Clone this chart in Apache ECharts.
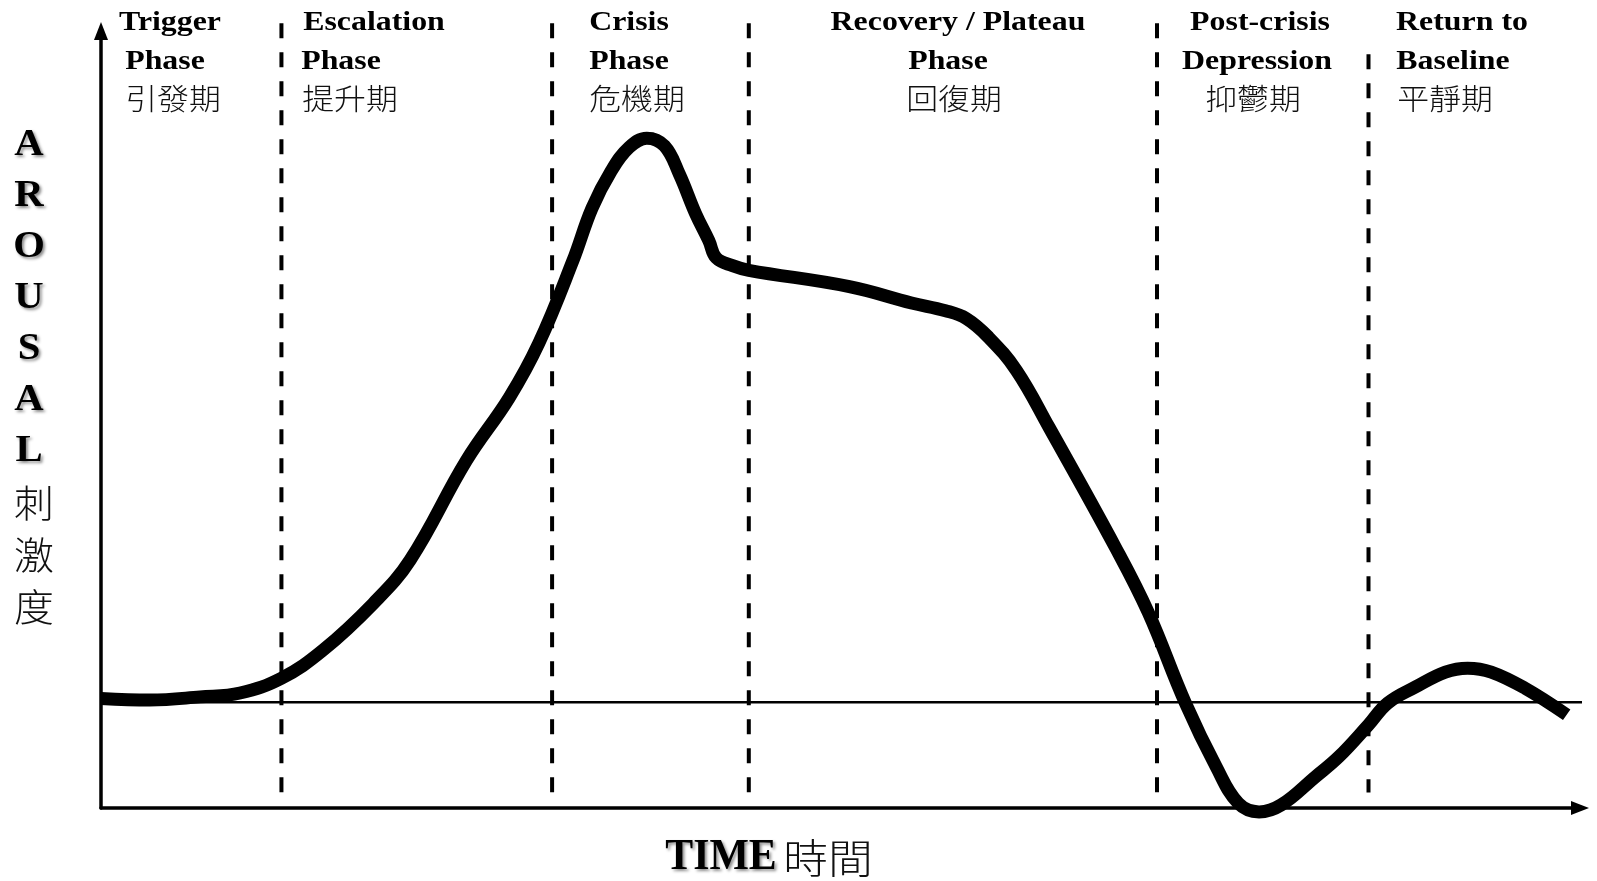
<!DOCTYPE html>
<html><head><meta charset="utf-8">
<script src="https://cdn.jsdelivr.net/npm/echarts@6/dist/echarts.min.js"></script>
<style>html,body{margin:0;padding:0;background:#fff;} #chart{width:1597px;height:881px;}</style>
</head><body><div id="chart"></div>
<script>
// ---- data ----
const timeValues    = [0, 3.3, 6.7, 9.4, 12.2, 15.0, 18.4, 20.9, 24.7, 27.6, 29.6, 31.9, 33.2, 34.5, 35.7, 36.9, 38.1, 39.1, 40.2, 41.1, 41.6, 42.7, 43.8, 50.6, 54.8, 57.1, 58.5, 60.0, 61.9, 64.1, 68.6, 70.8, 73.3, 75.4, 76.9, 78.3, 79.8, 82.1, 83.7, 85.7, 87.0, 88.9, 90.9, 92.4, 94.0, 96.3, 99.1];
const arousalValues = [14.1, 13.9, 14.3, 14.8, 16.7, 20.3, 26.3, 31.9, 44.7, 52.8, 59.8, 70.4, 77.2, 82.0, 85.0, 86.2, 85.2, 81.6, 76.5, 73.0, 70.8, 69.8, 69.2, 67.1, 65.0, 64.0, 63.0, 60.6, 56.3, 49.0, 33.5, 25.2, 13.6, 5.3, 0.6, -0.5, 0.4, 4.0, 6.6, 10.7, 13.5, 15.6, 17.5, 18.0, 17.5, 15.4, 12.0];
const baselineArousal = 13.6;
const baselineEnd = 100.5;
const phaseBoundaries = [12.2, 30.5, 43.8, 71.4, 85.7];
const boundaryTops = [101, 101, 101, 101, 97];
const boundaryBottom = 2;
const phaseTitles = [['Trigger', 'Phase'], ['Escalation', 'Phase'], ['Crisis', 'Phase'], ['Recovery / Plateau', 'Phase'], ['Post-crisis', 'Depression'], ['Return to', 'Baseline']];
const phaseTitlesZh = ['引發期', '提升期', '危機期', '回復期', '抑鬱期', '平靜期'];
const yAxisTitle = 'AROUSAL';
const yAxisTitleZh = '刺激度';
const xAxisTitle = 'TIME';
const xAxisTitleZh = '時間';

// ---- layout ----
const LATIN = '"Liberation Serif", "Times New Roman", "DejaVu Serif", serif';
const CJK = '"Noto Sans CJK TC", "Noto Sans CJK SC", sans-serif';
const labelCenters = [[170, 165, 173], [374, 341, 350], [629, 629, 637], [958, 948, 954], [1260, 1257, 1253], [1462, 1453, 1445]];
const rowY = [23, 62, 99];

const chart = echarts.init(document.getElementById('chart'));

const graphics = [];
phaseTitles.forEach((lines, i) => {
  lines.forEach((t, r) => {
    graphics.push({
      type: 'text', x: labelCenters[i][r], y: rowY[r], scaleX: 1.18,
      style: { text: t, x: 0, y: 0, fill: '#000', fontFamily: LATIN, fontWeight: 'bold', fontSize: 27,
        align: 'center', verticalAlign: 'middle', textAlign: 'center', textVerticalAlign: 'middle' }
    });
  });
  graphics.push({
    type: 'text', x: labelCenters[i][2], y: rowY[2], scaleX: 1.1,
    style: { text: phaseTitlesZh[i], x: 0, y: 0, fill: '#111', fontFamily: CJK, fontWeight: 300, fontSize: 29,
      align: 'center', verticalAlign: 'middle', textAlign: 'center', textVerticalAlign: 'middle' }
  });
});
const shadow = { textShadowColor: 'rgba(0,0,0,0.45)', textShadowBlur: 3, textShadowOffsetX: 2, textShadowOffsetY: 2 };
graphics.push({
  type: 'text', x: 29, y: 119.5, scaleX: 1.1,
  style: Object.assign({ text: yAxisTitle.split('').join('\n'), x: 0, y: 0, fill: '#000', fontFamily: LATIN, fontWeight: 'bold',
    fontSize: 37, lineHeight: 51, align: 'center', verticalAlign: 'top', textAlign: 'center', textVerticalAlign: 'top' }, shadow)
});
graphics.push({
  type: 'text', x: 34, y: 477, scaleX: 1.05,
  style: { text: yAxisTitleZh.split('').join('\n'), x: 0, y: 0, fill: '#111', fontFamily: CJK, fontWeight: 300,
    fontSize: 38, lineHeight: 52, align: 'center', verticalAlign: 'top', textAlign: 'center', textVerticalAlign: 'top' }
});
graphics.push({
  type: 'text', x: 721, y: 858, scaleX: 0.95,
  style: Object.assign({ text: xAxisTitle, x: 0, y: 0, fill: '#000', fontFamily: LATIN, fontWeight: 'bold', fontSize: 44,
    align: 'center', verticalAlign: 'middle', textAlign: 'center', textVerticalAlign: 'middle' }, shadow)
});
graphics.push({
  type: 'text', x: 828, y: 858, scaleX: 1.12,
  style: { text: xAxisTitleZh, x: 0, y: 0, fill: '#111', fontFamily: CJK, fontWeight: 300, fontSize: 40,
    align: 'center', verticalAlign: 'middle', textAlign: 'center', textVerticalAlign: 'middle' }
});

const axisCommon = {
  type: 'value', min: 0, max: 100,
  axisLine: { show: true, onZero: false, symbol: ['none', 'triangle'], symbolSize: [14, 18], lineStyle: { color: '#000', width: 3.5 } },
  axisTick: { show: false }, axisLabel: { show: false }, splitLine: { show: false }
};

const series = [{
  type: 'line', name: 'Arousal', data: timeValues.map((t, i) => [t, arousalValues[i]]),
  smooth: 0.4, symbol: 'none', clip: false, z: 5,
  lineStyle: { color: '#000', width: 13, join: 'round' }
}, {
  type: 'line', name: 'Baseline', data: [[0, baselineArousal], [baselineEnd, baselineArousal]],
  symbol: 'none', clip: false, z: 3, lineStyle: { color: '#000', width: 2.5 }
}];
phaseBoundaries.forEach((b, i) => {
  series.push({
    type: 'line', name: 'Boundary ' + (i + 1), data: [[b, boundaryTops[i]], [b, boundaryBottom]],
    symbol: 'none', clip: false, z: 4,
    lineStyle: { color: '#000', width: 4, type: [15, 14] }
  });
});

chart.setOption({
  animation: false,
  backgroundColor: '#fff',
  grid: { left: 101, right: 17, top: 31, bottom: 73 },
  xAxis: Object.assign({}, axisCommon),
  yAxis: Object.assign({}, axisCommon),
  series: series,
  graphic: { elements: graphics }
});
</script></body></html>
